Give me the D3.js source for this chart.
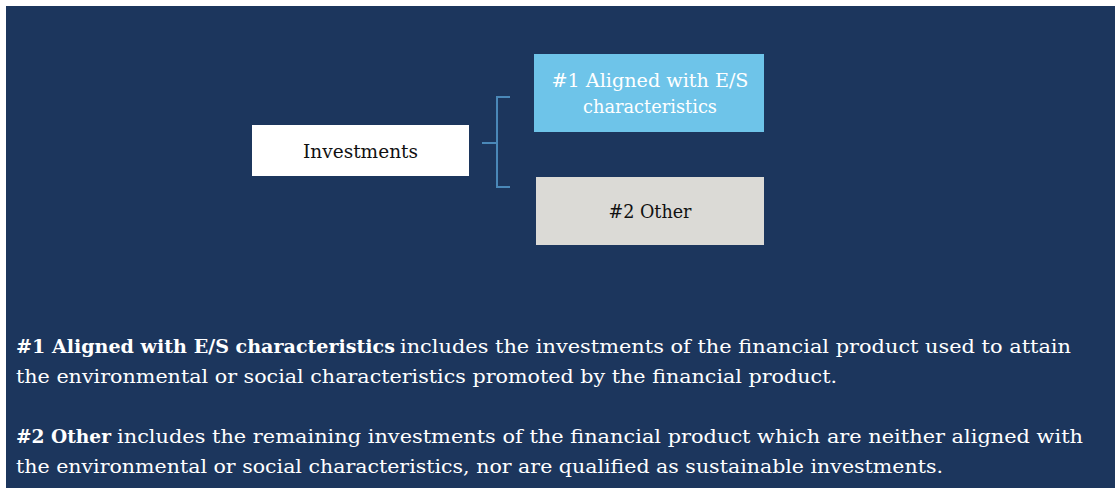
<!DOCTYPE html>
<html>
<head>
<meta charset="utf-8">
<script src="https://cdn.jsdelivr.net/npm/d3@7"></script>
<style>
  body { margin: 0; background: #ffffff; }
  svg { display: block; }
</style>
</head>
<body>
<svg id="chart"></svg>
<script>
// diagram content
const rootLabel = ["Investments"];
const branchNames = ["aligned", "other"];
const branchLabels = [["#1 Aligned with E/S", "characteristics"], ["#2 Other"]];
const noteBold = ["#1 Aligned with E/S characteristics", "#2 Other"];
const noteRest = [
  ["includes the investments of the financial product used to attain",
   "the environmental or social characteristics promoted by the financial product."],
  ["includes the remaining investments of the financial product which are neither aligned with",
   "the environmental or social characteristics, nor are qualified as sustainable investments."]
];

const width = 1115;
const height = 488;
const navy = "#1c365d";
const font = "'DejaVu Serif', 'Liberation Serif', serif";

const svg = d3.select("#chart")
  .attr("width", width)
  .attr("height", height)
  .style("font-family", font);

// background panel
svg.append("rect")
  .attr("x", 6).attr("y", 6)
  .attr("width", width - 6).attr("height", height - 6)
  .attr("fill", navy);

// vertical layout of the two branch boxes
const yBranch = d3.scaleOrdinal()
  .domain(branchNames)
  .range([{ y: 54, h: 78 }, { y: 177, h: 68 }]);
const branchFill = d3.scaleOrdinal().domain(branchNames).range(["#6ec4e9", "#dbdad6"]);
const branchInk = d3.scaleOrdinal().domain(branchNames).range(["#ffffff", "#111111"]);
// target text widths (to mimic the Palatino face of the original)
const branchLineWidth = [[197, 134], [83]];

// root box
const root = svg.append("g");
root.append("rect")
  .attr("x", 252).attr("y", 125)
  .attr("width", 217).attr("height", 51)
  .attr("fill", "#ffffff");
root.append("text")
  .attr("x", 252 + 217 / 2).attr("y", 158)
  .attr("text-anchor", "middle")
  .attr("font-size", 18)
  .attr("fill", "#111111")
  .attr("textLength", 115)
  .attr("lengthAdjust", "spacingAndGlyphs")
  .text(rootLabel[0]);

// bracket connecting root to branches
const bracket = d3.path();
bracket.moveTo(510, 97);
bracket.lineTo(497, 97);
bracket.lineTo(497, 187);
bracket.lineTo(510, 187);
bracket.moveTo(482, 143);
bracket.lineTo(497, 143);
svg.append("path")
  .attr("d", bracket.toString())
  .attr("fill", "none")
  .attr("stroke", "#4a88b8")
  .attr("stroke-width", 2);

// branch boxes
const branches = svg.selectAll("g.branch")
  .data(branchNames)
  .enter()
  .append("g")
  .attr("class", "branch");

branches.append("rect")
  .attr("x", (d, i) => i === 0 ? 534 : 536)
  .attr("y", d => yBranch(d).y)
  .attr("width", (d, i) => i === 0 ? 230 : 228)
  .attr("height", d => yBranch(d).h)
  .attr("fill", d => branchFill(d));

branches.each(function (d, i) {
  const g = d3.select(this);
  const lines = branchLabels[i];
  const b = yBranch(d);
  const lineH = 26;
  const firstBase = b.y + b.h / 2 - (lines.length - 1) * lineH / 2 + 7;
  lines.forEach((line, j) => {
    g.append("text")
      .attr("x", 650)
      .attr("y", firstBase + j * lineH)
      .attr("text-anchor", "middle")
      .attr("font-size", 18)
      .attr("fill", branchInk(d))
      .attr("textLength", branchLineWidth[i][j])
      .attr("lengthAdjust", "spacingAndGlyphs")
      .text(line);
  });
});

// explanatory notes: bold lead-in, then the rest of the sentence
const noteTop = [353, 443];
const boldWidth = [379, 95];
const restStart = [[400, 16], [117, 16]];
const restWidth = [[671, 821], [966, 927]];
const addLine = (str, x, y, len, bold) => svg.append("text")
  .attr("x", x)
  .attr("y", y)
  .attr("font-size", 19)
  .attr("font-weight", bold ? "bold" : null)
  .attr("fill", "#ffffff")
  .attr("textLength", len)
  .attr("lengthAdjust", "spacingAndGlyphs")
  .text(str);

noteBold.forEach((bold, i) => {
  addLine(bold, 16, noteTop[i], boldWidth[i], true);
  noteRest[i].forEach((rest, j) => {
    addLine(rest, restStart[i][j], noteTop[i] + j * 30, restWidth[i][j], false);
  });
});
</script>
</body>
</html>
